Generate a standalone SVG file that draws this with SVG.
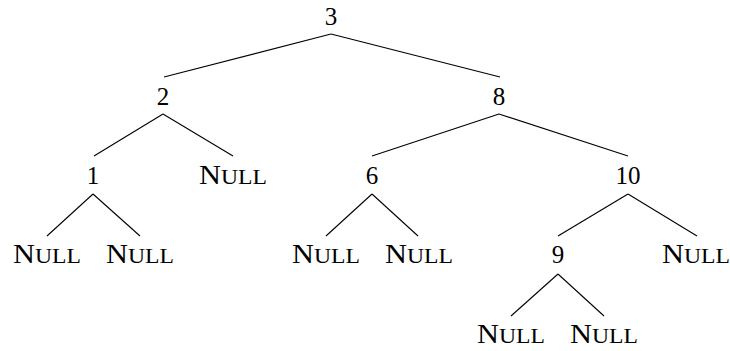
<svg xmlns="http://www.w3.org/2000/svg" width="730" height="351" viewBox="0 0 730 351">
<style>
.t{font-family:"Liberation Serif","Times New Roman",serif;font-size:25px;fill:#000;text-anchor:middle}
.nl{font-size:27px}
.sc{font-size:21px}
.e{stroke:#000;stroke-width:1.1;fill:none}
</style>
<rect width="730" height="351" fill="#fff"/>
<g id="connectors" class="e">
<line x1="331" y1="34" x2="164" y2="77"/>
<line x1="331" y1="34" x2="500" y2="77"/>
<line x1="163" y1="114" x2="94" y2="156"/>
<line x1="163" y1="114" x2="233" y2="156"/>
<line x1="499" y1="114" x2="372" y2="156"/>
<line x1="499" y1="114" x2="628" y2="156"/>
<line x1="93" y1="194" x2="47" y2="236"/>
<line x1="93" y1="194" x2="140" y2="236"/>
<line x1="372" y1="194" x2="326" y2="236"/>
<line x1="372" y1="194" x2="418" y2="236"/>
<line x1="628" y1="194" x2="558" y2="236"/>
<line x1="628" y1="194" x2="697" y2="236"/>
<line x1="558" y1="274" x2="511" y2="316"/>
<line x1="558" y1="274" x2="604" y2="316"/>
</g>
<g id="n3"><text class="t" x="331" y="25">3</text></g>
<g id="n2"><text class="t" x="163" y="105">2</text></g>
<g id="n8"><text class="t" x="499" y="105">8</text></g>
<g id="n1"><text class="t" x="93" y="184">1</text></g>
<g id="null1"><text class="t nl" x="233" y="184" textLength="68" lengthAdjust="spacingAndGlyphs">N<tspan class="sc">ULL</tspan></text></g>
<g id="n6"><text class="t" x="372" y="184">6</text></g>
<g id="n10"><text class="t" x="628" y="184">10</text></g>
<g id="null2"><text class="t nl" x="47" y="263" textLength="68" lengthAdjust="spacingAndGlyphs">N<tspan class="sc">ULL</tspan></text></g>
<g id="null3"><text class="t nl" x="140" y="263" textLength="68" lengthAdjust="spacingAndGlyphs">N<tspan class="sc">ULL</tspan></text></g>
<g id="null4"><text class="t nl" x="326" y="263" textLength="68" lengthAdjust="spacingAndGlyphs">N<tspan class="sc">ULL</tspan></text></g>
<g id="null5"><text class="t nl" x="419" y="263" textLength="68" lengthAdjust="spacingAndGlyphs">N<tspan class="sc">ULL</tspan></text></g>
<g id="n9"><text class="t" x="558" y="263">9</text></g>
<g id="null6"><text class="t nl" x="696" y="263" textLength="68" lengthAdjust="spacingAndGlyphs">N<tspan class="sc">ULL</tspan></text></g>
<g id="null7"><text class="t nl" x="511" y="343" textLength="68" lengthAdjust="spacingAndGlyphs">N<tspan class="sc">ULL</tspan></text></g>
<g id="null8"><text class="t nl" x="604" y="343" textLength="68" lengthAdjust="spacingAndGlyphs">N<tspan class="sc">ULL</tspan></text></g>
</svg>
